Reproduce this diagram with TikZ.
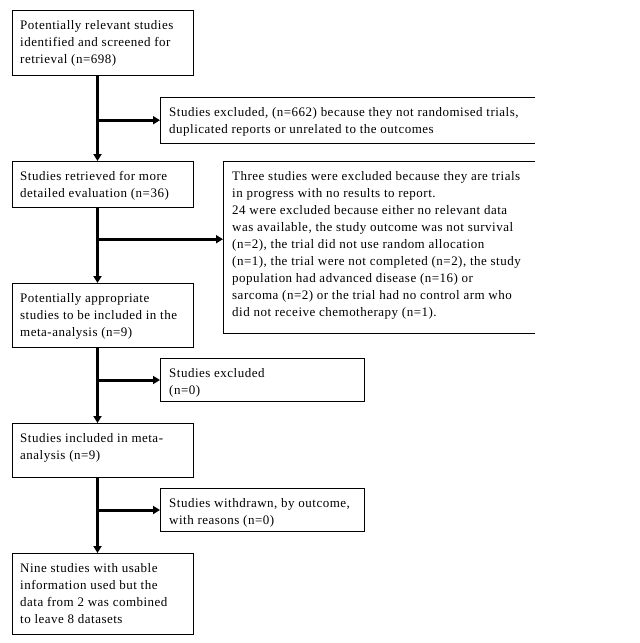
\documentclass[tikz,border=0pt]{standalone}
\usepackage{fontspec}
\setmainfont[LetterSpace=3.8]{Liberation Serif}
\usetikzlibrary{arrows.meta, positioning, calc}

\begin{document}
\begin{tikzpicture}[x=1pt, y=-1pt,
    every node/.style={font=\fontsize{13}{17}\selectfont},
    flowbox/.style={draw, rectangle, line width=1pt, anchor=north west, inner sep=0pt},
    openbox/.style={rectangle, anchor=north west, inner sep=0pt},
    flowtext/.style={anchor=north west, align=left, inner sep=0pt},
    boxline/.style={line width=1pt},
    flowarrow/.style={line width=3pt, -{Triangle[length=7pt, width=8pt]}}
]
    \useasboundingbox (0,0) rectangle (640,643);

    % Main column
    \node (screened) [flowbox, minimum width=181pt, minimum height=65pt] at (12,10) {};
    \node (retrieved) [flowbox, minimum width=181pt, minimum height=46pt] at (12,161) {};
    \node (appropriate) [flowbox, minimum width=181pt, minimum height=64pt] at (12,283) {};
    \node (included) [flowbox, minimum width=181pt, minimum height=54pt] at (12,423) {};
    \node (datasets) [flowbox, minimum width=181pt, minimum height=81pt] at (12,553) {};

    % Side boxes
    \node (excludedA) [openbox, minimum width=375pt, minimum height=46pt] at (160,97) {};
    \node (excludedB) [openbox, minimum width=312pt, minimum height=172pt] at (223,161) {};
    \node (excludedC) [flowbox, minimum width=204pt, minimum height=43pt] at (160,358) {};
    \node (withdrawn) [flowbox, minimum width=204pt, minimum height=43pt] at (160,488) {};

    \draw [boxline] (excludedA.north east) -- (excludedA.north west) -- (excludedA.south west) -- (excludedA.south east);
    \draw [boxline] (excludedB.north east) -- (excludedB.north west) -- (excludedB.south west) -- (excludedB.south east);

    % Texts
    \node (screenedText) [flowtext] at ([shift={(8pt,-10pt)}]screened.north west) {Potentially relevant studies\\identified and screened for\\retrieval (n=698)};
    \node (retrievedText) [flowtext] at ([shift={(8pt,-10pt)}]retrieved.north west) {Studies retrieved for more\\detailed evaluation (n=36)};
    \node (appropriateText) [flowtext] at ([shift={(8pt,-10pt)}]appropriate.north west) {Potentially appropriate\\studies to be included in the\\meta-analysis (n=9)};
    \node (includedText) [flowtext] at ([shift={(8pt,-10pt)}]included.north west) {Studies included in meta-\\analysis (n=9)};
    \node (datasetsText) [flowtext] at ([shift={(8pt,-10pt)}]datasets.north west) {Nine studies with usable\\information used but the\\data from 2 was combined\\to leave 8 datasets};
    \node (excludedAText) [flowtext] at ([shift={(9pt,-10pt)}]excludedA.north west) {Studies excluded, (n=662) because they not randomised trials,\\duplicated reports or unrelated to the outcomes};
    \node (excludedBText) [flowtext] at ([shift={(9pt,-10pt)}]excludedB.north west) {Three studies were excluded because they are trials\\in progress with no results to report.\\24 were excluded because either no relevant data\\was available, the study outcome was not survival\\(n=2), the trial did not use random allocation\\(n=1), the trial were not completed (n=2), the study\\population had advanced disease (n=16) or\\sarcoma (n=2) or the trial had no control arm who\\did not receive chemotherapy (n=1).};
    \node (excludedCText) [flowtext] at ([shift={(9pt,-10pt)}]excludedC.north west) {Studies excluded\\(n=0)};
    \node (withdrawnText) [flowtext] at ([shift={(9pt,-10pt)}]withdrawn.north west) {Studies withdrawn, by outcome,\\with reasons (n=0)};

    % Connections
    \draw [flowarrow] ([xshift=-5.5pt]screened.south) -- ([xshift=-5.5pt]retrieved.north);
    \draw [flowarrow] ([xshift=-5.5pt]screened.south |- excludedA.west) -- (excludedA.west);
    \draw [flowarrow] ([xshift=-5.5pt]retrieved.south) -- ([xshift=-5.5pt]appropriate.north);
    \draw [flowarrow] ([xshift=-5.5pt,yshift=8pt]retrieved.south |- excludedB.west) -- ([yshift=8pt]excludedB.west);
    \draw [flowarrow] ([xshift=-5.5pt]appropriate.south) -- ([xshift=-5.5pt]included.north);
    \draw [flowarrow] ([xshift=-5.5pt]appropriate.south |- excludedC.west) -- (excludedC.west);
    \draw [flowarrow] ([xshift=-5.5pt]included.south) -- ([xshift=-5.5pt]datasets.north);
    \draw [flowarrow] ([xshift=-5.5pt]included.south |- withdrawn.west) -- (withdrawn.west);
\end{tikzpicture}
\end{document}
